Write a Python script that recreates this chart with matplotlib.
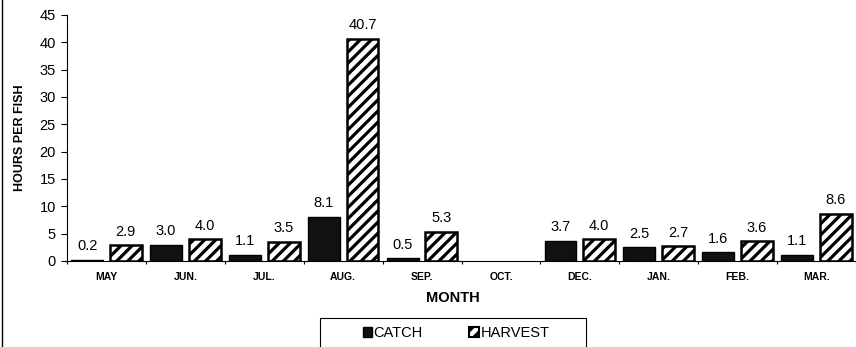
import numpy as np
import matplotlib
matplotlib.use("Agg")
import matplotlib.pyplot as plt
from matplotlib.patches import Rectangle
from matplotlib.lines import Line2D

plt.rcParams['font.family'] = ['Liberation Sans', 'DejaVu Sans']
plt.rcParams['hatch.linewidth'] = 2.3

# Données
mois = ["MAY", "JUN.", "JUL.", "AUG.", "SEP.", "OCT.", "DEC.", "JAN.", "FEB.", "MAR."]
catch = [0.2, 3.0, 1.1, 8.1, 0.5, None, 3.7, 2.5, 1.6, 1.1]
harvest = [2.9, 4.0, 3.5, 40.7, 5.3, None, 4.0, 2.7, 3.6, 8.6]
yticks = [0, 5, 10, 15, 20, 25, 30, 35, 40, 45]

W, H = 856, 347
fig = plt.figure(figsize=(W / 100, H / 100), dpi=100)
ax = fig.add_axes([67 / W, 86 / H, (W - 67) / W, 246 / H])

x = np.arange(len(mois))
largeur = 0.405
off = 0.245

for i in range(len(mois)):
    if catch[i] is not None:
        ax.bar(x[i] - off, catch[i], largeur, color="#111111", edgecolor="black", linewidth=1)
        ax.text(x[i] - off, catch[i] + 1.2, f"{catch[i]:.1f}", ha="center", va="bottom", fontsize=10.5)
    if harvest[i] is not None:
        ax.bar(x[i] + off, harvest[i], largeur, color="white", edgecolor="black",
               hatch="///", linewidth=1.8)
        ax.text(x[i] + off, harvest[i] + 1.2, f"{harvest[i]:.1f}", ha="center", va="bottom", fontsize=10.5)

ax.set_xlim(-0.5, len(mois) - 0.5)
ax.set_ylim(0, 45)
ax.set_yticks(yticks)
ax.tick_params(axis="y", labelsize=10.5, length=4, width=0.8, pad=4)
ax.set_xticks(x)
ax.set_xticklabels(mois, fontsize=7.5, fontweight="bold")
ax.tick_params(axis="x", length=0, pad=8)
ax.set_xticks(np.arange(-0.5, len(mois), 1), minor=True)
ax.tick_params(axis="x", which="minor", length=2, width=0.8)

for s in ["top", "right"]:
    ax.spines[s].set_visible(False)
ax.spines["left"].set_linewidth(0.8)
ax.spines["bottom"].set_linewidth(0.8)

ax.set_ylabel("HOURS PER FISH", fontsize=9, fontweight="bold", labelpad=10)
fig.text(453 / W, 1 - 298 / H, "MONTH", ha="center", va="center", fontsize=10.5, fontweight="bold")

# Cadre de la légende et bordure gauche
fig.patches.append(Rectangle((320 / W, -0.05), 266 / W, 0.05 + 29 / H, transform=fig.transFigure,
                             facecolor="none", edgecolor="black", linewidth=0.8))
fig.lines.append(Line2D([1.5 / W, 1.5 / W], [0, 1], transform=fig.transFigure, color="black", linewidth=1))

h1 = Rectangle((0, 0), 1, 1, facecolor="#111111", edgecolor="black")
h2 = Rectangle((0, 0), 1, 1, facecolor="white", edgecolor="black", hatch="///", linewidth=1.5)
fig.legend([h1, h2], ["CATCH", "HARVEST"], loc="center", bbox_to_anchor=(456 / W, 1 - 333 / H),
           ncol=2, frameon=False, fontsize=10.5, handlelength=0.65, handleheight=0.65,
           handletextpad=0.1, columnspacing=3.2)

fig.savefig("out.png", dpi=100)
